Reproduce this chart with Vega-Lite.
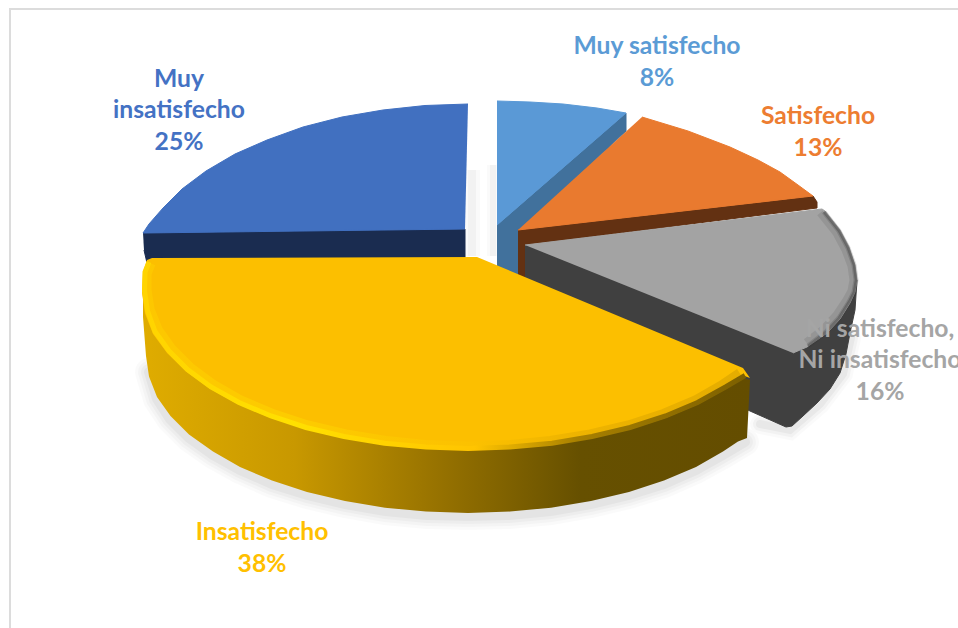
{"$schema":"https://vega.github.io/schema/vega-lite/v6.json","width":958,"height":628,"padding":0,"autosize":{"type":"none"},"background":"white","config":{"view":{"stroke":null}},
"datasets":{
"frame":[{"i":0,"x":958,"y":9},{"i":1,"x":10,"y":9},{"i":2,"x":10,"y":628}],
"shadow_a":[{"i":0,"x":149,"y":372},{"i":1,"x":157,"y":399},{"i":2,"x":170,"y":419},{"i":3,"x":189,"y":438},{"i":4,"x":213,"y":455},{"i":5,"x":240,"y":470},{"i":6,"x":272,"y":484},{"i":7,"x":307,"y":495},{"i":8,"x":345,"y":504},{"i":9,"x":385,"y":511},{"i":10,"x":426,"y":515},{"i":11,"x":468,"y":516},{"i":12,"x":510,"y":515},{"i":13,"x":551,"y":511},{"i":14,"x":591,"y":504},{"i":15,"x":629,"y":495},{"i":16,"x":664,"y":484},{"i":17,"x":696,"y":470},{"i":18,"x":723,"y":455},{"i":19,"x":745,"y":442}],
"shadow_b":[{"i":0,"x":760,"y":424},{"i":1,"x":790,"y":430},{"i":2,"x":820,"y":404},{"i":3,"x":843,"y":374},{"i":4,"x":851,"y":338}],
"shadow_c":[{"i":0,"x":472,"y":170},{"i":1,"x":472,"y":256}],
"shadow_d":[{"i":0,"x":493,"y":165},{"i":1,"x":493,"y":256}],
"blue_side":[{"i":0,"x":143,"y":233},{"i":1,"x":465,"y":229},{"i":2,"x":465,"y":258},{"i":3,"x":147,"y":263},{"i":4,"x":144,"y":250}],
"blue_top":[{"i":0,"x":468,"y":104},{"i":1,"x":425,"y":105.5},{"i":2,"x":383,"y":110},{"i":3,"x":342,"y":117},{"i":4,"x":303,"y":127},{"i":5,"x":267,"y":140},{"i":6,"x":235,"y":154},{"i":7,"x":206,"y":171},{"i":8,"x":182,"y":189},{"i":9,"x":163,"y":208},{"i":10,"x":149,"y":224},{"i":11,"x":143,"y":233},{"i":12,"x":465,"y":229}],
"lblue_side":[{"i":0,"x":497,"y":225},{"i":1,"x":626,"y":113},{"i":2,"x":626,"y":131},{"i":3,"x":519,"y":232},{"i":4,"x":518,"y":275},{"i":5,"x":497,"y":275}],
"lblue_top":[{"i":0,"x":497,"y":101},{"i":1,"x":530,"y":102},{"i":2,"x":563,"y":104},{"i":3,"x":597,"y":108},{"i":4,"x":626,"y":113},{"i":5,"x":497,"y":225}],
"orange_side":[{"i":0,"x":518,"y":230},{"i":1,"x":813,"y":196},{"i":2,"x":817,"y":202},{"i":3,"x":817,"y":208},{"i":4,"x":525,"y":245},{"i":5,"x":525,"y":290},{"i":6,"x":518,"y":285}],
"orange_top":[{"i":0,"x":642,"y":117},{"i":1,"x":688,"y":131},{"i":2,"x":730,"y":147},{"i":3,"x":758,"y":160},{"i":4,"x":780,"y":172},{"i":5,"x":798,"y":185},{"i":6,"x":813,"y":196},{"i":7,"x":518,"y":230}],
"gray_side":[{"i":0,"x":525,"y":245},{"i":1,"x":857,"y":280},{"i":2,"x":855,"y":310},{"i":3,"x":850,"y":333},{"i":4,"x":846,"y":354},{"i":5,"x":840,"y":373},{"i":6,"x":830,"y":389},{"i":7,"x":817,"y":403},{"i":8,"x":803,"y":416},{"i":9,"x":792,"y":426},{"i":10,"x":786,"y":427},{"i":11,"x":750,"y":411},{"i":12,"x":525,"y":300}],
"gray_top":[{"i":0,"x":525,"y":245},{"i":1,"x":822,"y":209},{"i":2,"x":825,"y":211},{"i":3,"x":840,"y":230},{"i":4,"x":849,"y":247},{"i":5,"x":855,"y":265},{"i":6,"x":857,"y":280},{"i":7,"x":855,"y":292},{"i":8,"x":850,"y":303},{"i":9,"x":840,"y":319},{"i":10,"x":827,"y":333},{"i":11,"x":807,"y":347},{"i":12,"x":793,"y":353}],
"gray_rim_outer":[{"i":0,"x":824,"y":212},{"i":1,"x":839,"y":231},{"i":2,"x":848,"y":248},{"i":3,"x":854,"y":265},{"i":4,"x":856,"y":280},{"i":5,"x":854,"y":292},{"i":6,"x":849,"y":302},{"i":7,"x":839,"y":318},{"i":8,"x":826,"y":332},{"i":9,"x":808,"y":346}],
"gray_rim_inner":[{"i":0,"x":820,"y":213},{"i":1,"x":836,"y":233},{"i":2,"x":845,"y":250},{"i":3,"x":851,"y":266},{"i":4,"x":853,"y":280},{"i":5,"x":851,"y":291},{"i":6,"x":846,"y":300},{"i":7,"x":836,"y":315},{"i":8,"x":823,"y":329},{"i":9,"x":806,"y":342}],
"yellow_side":[{"i":0,"x":143,"y":317},{"i":1,"x":146,"y":356},{"i":2,"x":149,"y":376.5},{"i":3,"x":157,"y":397},{"i":4,"x":170.5,"y":416},{"i":5,"x":189,"y":434.5},{"i":6,"x":213,"y":451.6},{"i":7,"x":240,"y":467},{"i":8,"x":272,"y":480.5},{"i":9,"x":307,"y":492},{"i":10,"x":345,"y":501},{"i":11,"x":385,"y":507.7},{"i":12,"x":426,"y":511.6},{"i":13,"x":468,"y":513},{"i":14,"x":510,"y":511.6},{"i":15,"x":551,"y":507.7},{"i":16,"x":591,"y":501},{"i":17,"x":629,"y":492},{"i":18,"x":664,"y":480.5},{"i":19,"x":696,"y":467},{"i":20,"x":723,"y":451.6},{"i":21,"x":738,"y":441.5},{"i":22,"x":747,"y":438},{"i":23,"x":750,"y":380},{"i":24,"x":468,"y":300},{"i":25,"x":143,"y":300}],
"yellow_top":[{"i":0,"x":147,"y":260},{"i":1,"x":152,"y":258},{"i":2,"x":477,"y":257},{"i":3,"x":743,"y":368},{"i":4,"x":750,"y":378},{"i":5,"x":744.5,"y":376},{"i":6,"x":726.5,"y":388.6},{"i":7,"x":698.5,"y":404},{"i":8,"x":666.5,"y":417.5},{"i":9,"x":631,"y":429},{"i":10,"x":593,"y":438},{"i":11,"x":552.4,"y":444.7},{"i":12,"x":510.5,"y":448.6},{"i":13,"x":468,"y":450},{"i":14,"x":425.5,"y":448.6},{"i":15,"x":383.6,"y":444.7},{"i":16,"x":343,"y":438},{"i":17,"x":305,"y":429},{"i":18,"x":269.5,"y":417.5},{"i":19,"x":237.5,"y":404},{"i":20,"x":209.5,"y":388.6},{"i":21,"x":186,"y":371.5},{"i":22,"x":167,"y":353},{"i":23,"x":153,"y":334},{"i":24,"x":145,"y":313.5},{"i":25,"x":142,"y":293},{"i":26,"x":143,"y":272}],
"yellow_rim_edge":[{"i":0,"x":149,"y":262},{"i":1,"x":145,"y":272},{"i":2,"x":144.5,"y":291},{"i":3,"x":147.5,"y":311},{"i":4,"x":155,"y":331.5},{"i":5,"x":169,"y":351},{"i":6,"x":187.5,"y":369.5},{"i":7,"x":211,"y":387},{"i":8,"x":239,"y":402.5},{"i":9,"x":271,"y":416},{"i":10,"x":306,"y":427.5},{"i":11,"x":344,"y":436.5},{"i":12,"x":384.5,"y":443.2},{"i":13,"x":426,"y":447},{"i":14,"x":468,"y":448.4},{"i":15,"x":510,"y":447},{"i":16,"x":552,"y":443.2},{"i":17,"x":592,"y":436.5},{"i":18,"x":630,"y":427.5},{"i":19,"x":665.5,"y":416},{"i":20,"x":697.5,"y":402.5},{"i":21,"x":725.5,"y":387},{"i":22,"x":745,"y":375.5}],
"yellow_rim_soft":[{"i":0,"x":152,"y":264},{"i":1,"x":148,"y":274},{"i":2,"x":148,"y":290},{"i":3,"x":151,"y":309},{"i":4,"x":159,"y":329},{"i":5,"x":172.5,"y":348},{"i":6,"x":191,"y":366.5},{"i":7,"x":214,"y":383.5},{"i":8,"x":241,"y":399},{"i":9,"x":273,"y":412.5},{"i":10,"x":308,"y":424},{"i":11,"x":346,"y":433},{"i":12,"x":386,"y":439.5},{"i":13,"x":426,"y":443.5},{"i":14,"x":468,"y":445},{"i":15,"x":510,"y":443.5},{"i":16,"x":550,"y":439.5},{"i":17,"x":590,"y":433},{"i":18,"x":628,"y":424},{"i":19,"x":663,"y":412.5},{"i":20,"x":695,"y":399},{"i":21,"x":722,"y":383.5},{"i":22,"x":739,"y":372}],
"labels":[
{"category":"Muy insatisfecho","line":"Muy","x":179,"y":80},{"category":"Muy insatisfecho","line":"insatisfecho","x":179,"y":111},{"category":"Muy insatisfecho","line":"25%","x":179,"y":143},
{"category":"Muy satisfecho","line":"Muy satisfecho","x":657,"y":47},{"category":"Muy satisfecho","line":"8%","x":657,"y":79},
{"category":"Satisfecho","line":"Satisfecho","x":818,"y":117},{"category":"Satisfecho","line":"13%","x":818,"y":149},
{"category":"Ni satisfecho, Ni insatisfecho","line":"Ni satisfecho,","x":880,"y":330},{"category":"Ni satisfecho, Ni insatisfecho","line":"Ni insatisfecho","x":880,"y":361},{"category":"Ni satisfecho, Ni insatisfecho","line":"16%","x":880,"y":393},
{"category":"Insatisfecho","line":"Insatisfecho","x":262,"y":533},{"category":"Insatisfecho","line":"38%","x":262,"y":565}]
},
"encoding":{
"x":{"field":"x","type":"quantitative","axis":null,"scale":{"domain":[0,958],"nice":false,"zero":false}},
"y":{"field":"y","type":"quantitative","axis":null,"scale":{"domain":[628,0],"nice":false,"zero":false}},
"order":{"field":"i"}},
"layer":[
{"data":{"name":"frame"},"mark":{"type":"line","stroke":"#dcdcdc","strokeWidth":2}},
{"data":{"name":"shadow_a"},"mark":{"type":"line","stroke":"#000","strokeWidth":28,"strokeOpacity":0.018,"strokeCap":"round"}},
{"data":{"name":"shadow_a"},"mark":{"type":"line","stroke":"#000","strokeWidth":22,"strokeOpacity":0.022,"strokeCap":"round"}},
{"data":{"name":"shadow_a"},"mark":{"type":"line","stroke":"#000","strokeWidth":16,"strokeOpacity":0.028,"strokeCap":"round"}},
{"data":{"name":"shadow_a"},"mark":{"type":"line","stroke":"#000","strokeWidth":10,"strokeOpacity":0.035,"strokeCap":"round"}},
{"data":{"name":"shadow_b"},"mark":{"type":"line","stroke":"#000","strokeWidth":20,"strokeOpacity":0.02,"strokeCap":"round"}},
{"data":{"name":"shadow_b"},"mark":{"type":"line","stroke":"#000","strokeWidth":14,"strokeOpacity":0.03,"strokeCap":"round"}},
{"data":{"name":"shadow_b"},"mark":{"type":"line","stroke":"#000","strokeWidth":8,"strokeOpacity":0.04,"strokeCap":"round"}},
{"data":{"name":"shadow_c"},"mark":{"type":"line","stroke":"#000","strokeWidth":16,"strokeOpacity":0.02}},
{"data":{"name":"shadow_c"},"mark":{"type":"line","stroke":"#000","strokeWidth":8,"strokeOpacity":0.03}},
{"data":{"name":"shadow_d"},"mark":{"type":"line","stroke":"#000","strokeWidth":12,"strokeOpacity":0.02}},
{"data":{"name":"shadow_d"},"mark":{"type":"line","stroke":"#000","strokeWidth":6,"strokeOpacity":0.03}},
{"data":{"name":"blue_side"},"mark":{"type":"line","fill":"#1a2c50","stroke":"#1a2c50","strokeWidth":1}},
{"data":{"name":"blue_top"},"mark":{"type":"line","fill":"#4170c0","stroke":"#4170c0","strokeWidth":1}},
{"data":{"name":"lblue_side"},"mark":{"type":"line","fill":"#41719c","stroke":"#41719c","strokeWidth":1}},
{"data":{"name":"lblue_top"},"mark":{"type":"line","fill":"#5a99d6","stroke":"#5a99d6","strokeWidth":1}},
{"data":{"name":"orange_side"},"mark":{"type":"line","fill":"#633112","stroke":"#633112","strokeWidth":1}},
{"data":{"name":"orange_top"},"mark":{"type":"line","fill":"#e97a2f","stroke":"#e97a2f","strokeWidth":1}},
{"data":{"name":"gray_side"},"mark":{"type":"line","fill":"#404040","stroke":"#404040","strokeWidth":1}},
{"data":{"name":"gray_top"},"mark":{"type":"line","fill":"#a3a3a3","stroke":"#a3a3a3","strokeWidth":1}},
{"data":{"name":"gray_rim_inner"},"mark":{"type":"line","stroke":"#333","strokeWidth":7,"strokeOpacity":0.12}},
{"data":{"name":"gray_rim_outer"},"mark":{"type":"line","stroke":"#333","strokeWidth":5,"strokeOpacity":0.2}},
{"data":{"name":"gray_rim_outer"},"mark":{"type":"line","stroke":"#333","strokeWidth":2.5,"strokeOpacity":0.35}},
{"data":{"name":"yellow_side"},"mark":{"type":"line","stroke":null,"fill":{"gradient":"linear","x1":0,"y1":0,"x2":1,"y2":0,"stops":[{"offset":0,"color":"#dfac00"},{"offset":0.25,"color":"#c89800"},{"offset":0.5,"color":"#947000"},{"offset":0.72,"color":"#665000"},{"offset":1,"color":"#644d00"}]}}},
{"data":{"name":"yellow_top"},"mark":{"type":"line","fill":"#fcbf00","stroke":null}},
{"data":{"name":"yellow_rim_soft"},"mark":{"type":"line","strokeWidth":7,"strokeOpacity":0.4,"stroke":{"gradient":"linear","x1":0,"y1":0,"x2":1,"y2":0,"stops":[{"offset":0,"color":"#ffd400"},{"offset":0.25,"color":"#ffdf00"},{"offset":0.55,"color":"#fcc400"},{"offset":0.72,"color":"#d9a300"},{"offset":1,"color":"#c29200"}]}}},
{"data":{"name":"yellow_rim_edge"},"mark":{"type":"line","strokeWidth":5,"stroke":{"gradient":"linear","x1":0,"y1":0,"x2":1,"y2":0,"stops":[{"offset":0,"color":"#ffd400"},{"offset":0.25,"color":"#ffe000"},{"offset":0.55,"color":"#ffc400"},{"offset":0.72,"color":"#a88000"},{"offset":1,"color":"#7d6000"}]}}},
{"data":{"name":"labels"},"mark":{"type":"text","font":"Lato","fontWeight":"bold","fontSize":24.7,"align":"center","baseline":"middle"},"encoding":{"order":null,"text":{"field":"line"},"color":{"field":"category","type":"nominal","legend":null,"scale":{"domain":["Muy insatisfecho","Muy satisfecho","Satisfecho","Ni satisfecho, Ni insatisfecho","Insatisfecho"],"range":["#4472c4","#5b9bd5","#ed7d31","#a5a5a5","#ffc000"]}}}}
]}
